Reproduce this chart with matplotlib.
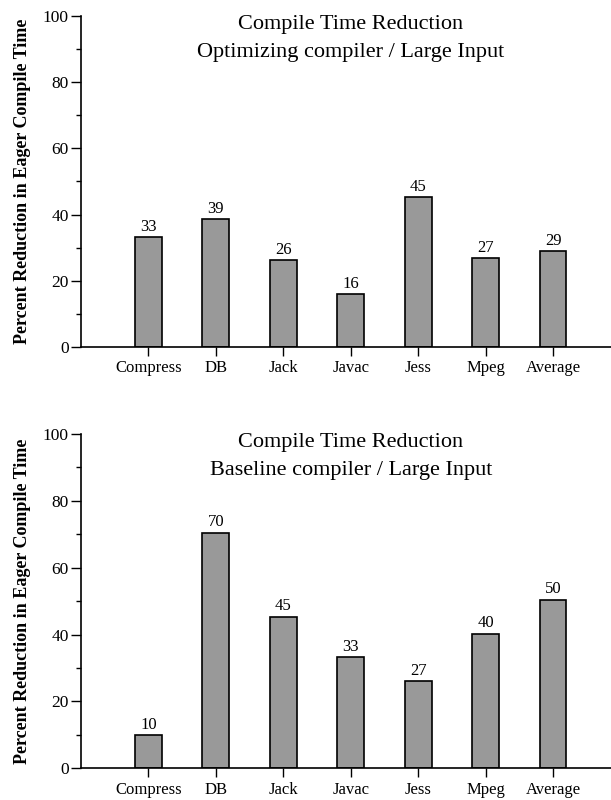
import numpy as np
import matplotlib
matplotlib.use('Agg')
import matplotlib.pyplot as plt
from matplotlib.ticker import MultipleLocator

plt.rcParams['font.family'] = ['Liberation Serif', 'DejaVu Serif']

benchmarks = ['Compress', 'DB', 'Jack', 'Javac', 'Jess', 'Mpeg', 'Average']

# optimizing compiler
opt_values = [33.2, 38.6, 26.2, 16.0, 45.3, 26.9, 28.9]
opt_labels = ['33', '39', '26', '16', '45', '27', '29']

# baseline compiler
base_values = [10.0, 70.5, 45.3, 33.3, 26.1, 40.3, 50.4]
base_labels = ['10', '70', '45', '33', '27', '40', '50']

titles = [('Compile Time Reduction', 'Optimizing compiler / Large Input'),
          ('Compile Time Reduction', 'Baseline compiler / Large Input')]

fig = plt.figure(figsize=(6.11, 8.0), dpi=100)
ax_opt = fig.add_axes([0.1326, 0.5659, 0.8674, 0.4145])
ax_base = fig.add_axes([0.1326, 0.0396, 0.8674, 0.4180])

x = np.arange(len(benchmarks))

for ax, vals, labs, ttl in [(ax_opt, opt_values, opt_labels, titles[0]),
                            (ax_base, base_values, base_labels, titles[1])]:
    ax.bar(x, vals, width=0.4, color='#999999', edgecolor='black', linewidth=1.2, zorder=2)
    for xi, v, l in zip(x, vals, labs):
        ax.text(xi, v + 0.7, l, ha='center', va='bottom', fontsize=12)
    ax.set_xlim(-1.0, 6.86)
    ax.set_ylim(0, 100)
    ax.set_xticks(x)
    ax.set_xticklabels(benchmarks, fontsize=12)
    ax.yaxis.set_major_locator(MultipleLocator(20))
    ax.yaxis.set_minor_locator(MultipleLocator(10))
    ax.tick_params(axis='y', which='major', length=7, width=1, labelsize=12.5, pad=2)
    ax.tick_params(axis='y', which='minor', length=3.5, width=1)
    ax.tick_params(axis='x', which='major', length=6.5, width=1, pad=3)
    ax.spines['top'].set_visible(False)
    ax.spines['right'].set_visible(False)
    ax.spines['left'].set_linewidth(1.2)
    ax.spines['bottom'].set_linewidth(1.2)
    ax.set_ylabel('Percent Reduction in Eager Compile Time', fontsize=13,
                  fontweight='bold', labelpad=8)
    ax.text(3.0, 96.0, ttl[0], ha='center', va='baseline', fontsize=16)
    ax.text(3.0, 87.6, ttl[1], ha='center', va='baseline', fontsize=16)

fig.savefig('out.png', dpi=100)
